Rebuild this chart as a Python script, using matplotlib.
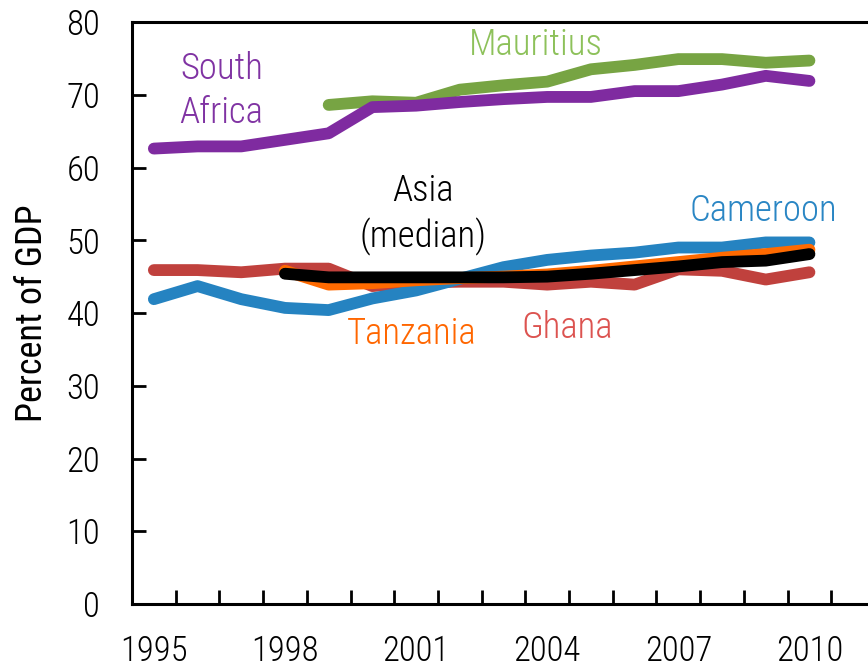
import numpy as np
from matplotlib import pyplot as plt

# data (percent of GDP)
years = list(range(1995, 2011))
south_africa = [62.6, 62.9, 62.9, 63.8, 64.7, 68.3, 68.5, 69.0, 69.4, 69.7, 69.7, 70.5, 70.5, 71.4, 72.6, 71.9]
mauritius = [np.nan] * 4 + [68.6, 69.1, 68.9, 70.7, 71.3, 71.8, 73.5, 74.1, 74.9, 74.9, 74.4, 74.7]
ghana = [45.9, 45.9, 45.6, 46.1, 46.1, 43.7, 44.2, 44.3, 44.3, 43.9, 44.3, 43.9, 46.0, 45.8, 44.6, 45.6]
cameroon = [41.9, 43.7, 41.9, 40.7, 40.4, 42.0, 43.1, 44.7, 46.3, 47.3, 47.9, 48.3, 49.0, 49.0, 49.7, 49.7]
tanzania = [np.nan] * 3 + [45.8, 43.9, 44.1, 44.5, 44.8, 45.0, 45.3, 45.8, 46.4, 47.0, 47.6, 48.1, 48.7]
asia_median = [np.nan] * 3 + [45.4, 44.9, 44.9, 44.9, 44.9, 44.9, 45.0, 45.4, 45.9, 46.4, 47.0, 47.2, 48.1]
year_labels = [1995, 1998, 2001, 2004, 2007, 2010]

plt.rcParams['font.family'] = ['Roboto Condensed', 'DejaVu Sans']
plt.rcParams['font.weight'] = 300

fig = plt.figure(figsize=(8.68, 6.70), dpi=100)
ax = fig.add_axes([132 / 868, 66 / 670, 743 / 868, 582 / 670])

lw = 8.5
ax.plot(years, mauritius, color="#77A443", lw=lw, solid_capstyle="round", zorder=2)
ax.plot(years, south_africa, color="#7F2BA0", lw=lw, solid_capstyle="round", zorder=3)
ax.plot(years, ghana, color="#C0413D", lw=lw, solid_capstyle="round", zorder=3)
ax.plot(years, cameroon, color="#2583C1", lw=lw, solid_capstyle="round", zorder=4)
ax.plot(years, tanzania, color="#FF6A00", lw=lw, solid_capstyle="round", zorder=5)
ax.plot(years, asia_median, color="black", lw=lw, solid_capstyle="round", zorder=6)

# labels next to the lines
fs = 26.5
ax.text(1996.55, 70.5, "South\nAfrica", color="#8033A3", fontsize=fs, ha="center", va="center", linespacing=1.3)
ax.text(2003.75, 76.9, "Mauritius", color="#8DC15A", fontsize=fs, ha="center", va="center")
ax.text(2001.15, 53.6, "Asia\n(median)", color="black", fontsize=fs, ha="center", va="center", linespacing=1.3)
ax.text(2008.95, 54.0, "Cameroon", color="#2A86C4", fontsize=fs, ha="center", va="center")
ax.text(2000.9, 37.1, "Tanzania", color="#FF6600", fontsize=fs, ha="center", va="center")
ax.text(2004.45, 38.0, "Ghana", color="#DC5350", fontsize=fs, ha="center", va="center")

ax.set_xlim(1994.5, 2011.5)
ax.set_ylim(0, 80)

# category axis: marks between years, labels on the years
ax.set_xticks([y + 0.5 for y in years])
ax.set_xticklabels([])
ax.set_xticks(year_labels, minor=True)
ax.set_xticklabels([str(y) for y in year_labels], minor=True)
ax.tick_params(axis="x", which="major", direction="in", length=10, width=2)
ax.tick_params(axis="x", which="minor", length=0, pad=22, labelsize=25)

ax.set_yticks(range(0, 81, 10))
ax.tick_params(axis="y", direction="in", length=10, width=2, pad=23, labelsize=25)

ax.set_ylabel("Percent of GDP", fontsize=26, labelpad=12)

for side in ["left", "bottom", "top", "right"]:
    ax.spines[side].set_linewidth(2.2)

plt.savefig("out.png", dpi=100)
